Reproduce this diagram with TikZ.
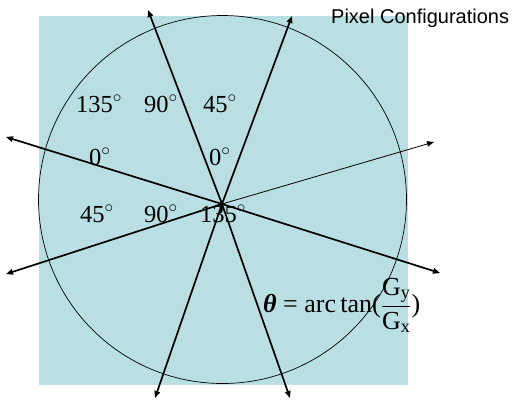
\documentclass[tikz,border=0pt]{standalone}
\usepackage{fontspec}
\setmainfont{Liberation Serif}
\setsansfont{Liberation Sans}
\usetikzlibrary{arrows.meta}
\definecolor{bluebg}{RGB}{185,223,227}
\begin{document}
\begin{tikzpicture}[x=1pt,y=-1pt,
  arr/.style={line width=1.7pt,-{Triangle[length=7pt,width=5.5pt]}},
  thinarr/.style={line width=0.8pt,-{Triangle[length=7pt,width=5.5pt]}},
  lbl/.style={anchor=base west,inner sep=0pt,font=\fontsize{24.5}{26}\selectfont}]
\useasboundingbox (0,0) rectangle (514,400);
\fill[bluebg] (39,16) rectangle (408,385);
\draw[line width=0.7pt] (222.5,199.5) circle[radius=184pt];
\coordinate (c) at (222,204);
\coordinate (ul) at (148,10);
\coordinate (ur) at (292,16);
\coordinate (lu) at (6,137);
\coordinate (rl) at (440,273);
\coordinate (ll) at (6,274);
\coordinate (ru) at (434,142);
\coordinate (bl) at (155,398);
\coordinate (br) at (290,398);
\draw[arr] (c) -- (ul);
\draw[arr] (c) -- (ur);
\draw[arr] (c) -- (lu);
\draw[arr] (c) -- (rl);
\draw[arr] (c) -- (ll);
\draw[thinarr] (c) -- (ru);
\draw[arr] (c) -- (bl);
\draw[arr] (c) -- (br);
\node[lbl] (a1) at (76,112) {135$^{\circ}$};
\node[lbl] (a2) at (144,112) {90$^{\circ}$};
\node[lbl] (a3) at (203,112) {45$^{\circ}$};
\node[lbl] (a4) at (89,165) {0$^{\circ}$};
\node[lbl] (a5) at (209,165) {0$^{\circ}$};
\node[lbl] (a6) at (80,222) {45$^{\circ}$};
\node[lbl] (a7) at (144,222) {90$^{\circ}$};
\node[lbl] (a8) at (200,222) {135$^{\circ}$};
\node[anchor=base west,inner sep=0pt,font=\fontsize{26}{30}\selectfont] (f) at (263,312)
  {{\bfseries\itshape θ} = arc\,tan($\displaystyle\frac{\mbox{G\textsubscript{y}}}{\mbox{G\textsubscript{x}}}$)};
\node[anchor=base west,inner sep=0pt,font=\sffamily\fontsize{20}{24}\selectfont] (t) at (331,23.5) {Pixel Configurations};
\end{tikzpicture}
\end{document}
